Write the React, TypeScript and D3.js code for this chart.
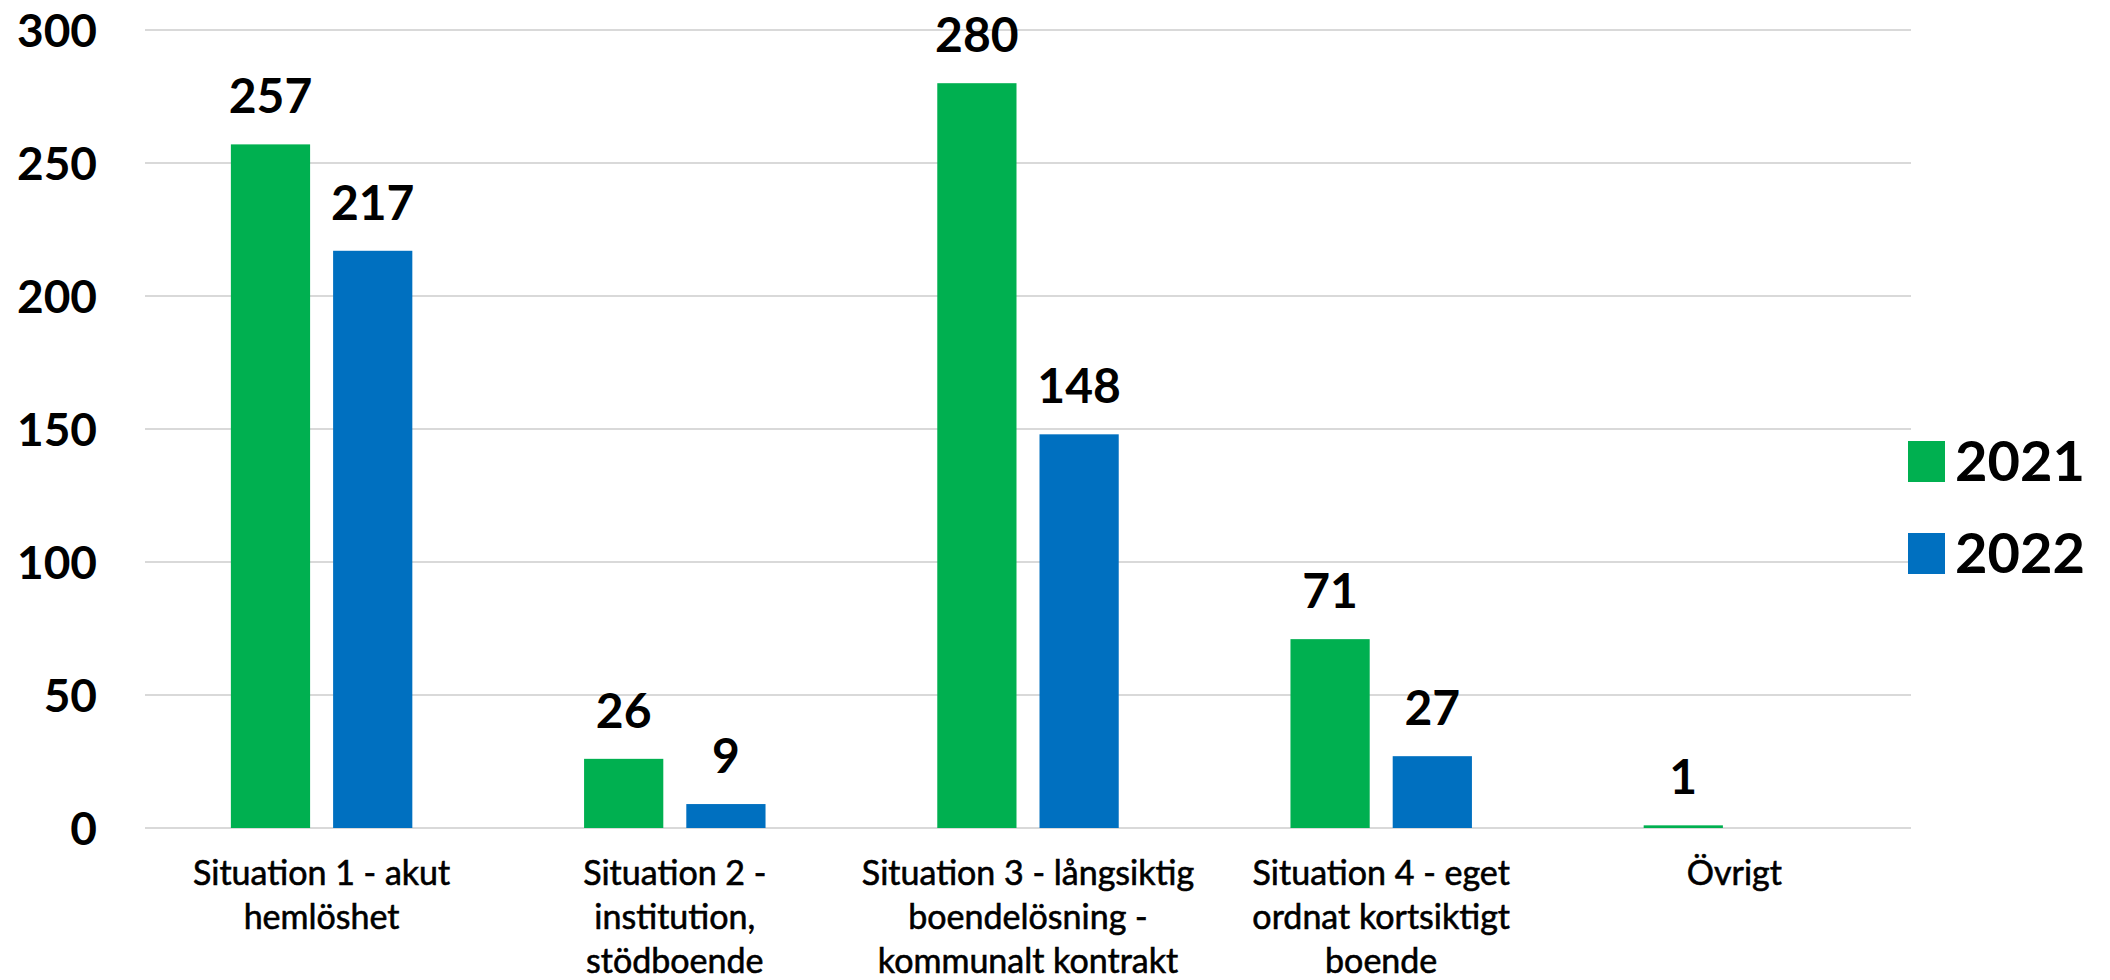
import React, { useEffect } from 'react';
import * as d3 from 'd3';

// Data
const categories = ['s1', 's2', 's3', 's4', 'ovr'];
const categoryLines: string[][] = [
  ['Situation 1 - akut', 'hemlöshet'],
  ['Situation 2 -', 'institution,', 'stödboende'],
  ['Situation 3 - långsiktig', 'boendelösning -', 'kommunalt kontrakt'],
  ['Situation 4 - eget', 'ordnat kortsiktigt', 'boende'],
  ['Övrigt'],
];
const seriesNames = ['2021', '2022'];
const values2021: (number | null)[] = [257, 26, 280, 71, 1];
const values2022: (number | null)[] = [217, 9, 148, 27, null];
const yTicks = [0, 50, 100, 150, 200, 250, 300];

const colors: Record<string, string> = { '2021': '#00B050', '2022': '#0070C0' };
const FONT = 'Lato, "Open Sans", sans-serif';

const W = 2110;
const H = 980;
const margin = { top: 30, right: 199, bottom: 152, left: 145 };

const App: React.FC = () => {
  useEffect(() => {
    document.body.style.margin = '0';
  }, []);

  const innerW = W - margin.left - margin.right;
  const innerH = H - margin.top - margin.bottom;

  const x0 = d3.scaleBand().domain(categories).range([0, innerW]).padding(0);
  const x1 = d3
    .scaleBand()
    .domain(seriesNames)
    .range([0, x0.bandwidth()])
    .paddingInner(0.225)
    .paddingOuter(0.84);
  const y = d3.scaleLinear().domain([0, 300]).range([innerH, 0]);

  const seriesValues: Record<string, (number | null)[]> = {
    '2021': values2021,
    '2022': values2022,
  };

  return (
    <svg width={W} height={H} style={{ display: 'block', background: '#fff' }}>
      <g transform={`translate(${margin.left},${margin.top})`}>
        {/* gridlines */}
        {yTicks.map((t) => (
          <line
            key={t}
            x1={0}
            x2={innerW}
            y1={y(t)}
            y2={y(t)}
            stroke="#d9d9d9"
            strokeWidth={2}
          />
        ))}
        {/* y tick labels */}
        {yTicks.map((t) => (
          <text
            key={`yl${t}`}
            x={-48}
            y={y(t)}
            dy="0.36em"
            textAnchor="end"
            fontFamily={FONT}
            fontWeight="bold"
            fontSize={46}
            fill="#000"
          >
            {t}
          </text>
        ))}
        {/* bars */}
        {categories.map((c, i) => (
          <g key={c} transform={`translate(${x0(c)},0)`}>
            {seriesNames.map((s) => {
              const v = seriesValues[s][i];
              if (v == null) return null;
              const bx = x1(s) || 0;
              return (
                <g key={s}>
                  <rect
                    x={bx}
                    y={y(v)}
                    width={x1.bandwidth()}
                    height={Math.max(0, y(0) - y(v))}
                    fill={colors[s]}
                  />
                  <text
                    x={bx + x1.bandwidth() / 2}
                    y={y(v) - 31}
                    textAnchor="middle"
                    fontFamily={FONT}
                    fontWeight="bold"
                    fontSize={48}
                    fill="#000"
                  >
                    {v}
                  </text>
                </g>
              );
            })}
            {/* category label */}
            <text
              x={x0.bandwidth() / 2}
              y={innerH + 57}
              textAnchor="middle"
              fontFamily={FONT}
              fontSize={34}
              fill="#000"
              stroke="#000"
              strokeWidth={0.6}
            >
              {categoryLines[i].map((line, j) => (
                <tspan key={j} x={x0.bandwidth() / 2} dy={j === 0 ? 0 : 44}>
                  {line}
                </tspan>
              ))}
            </text>
          </g>
        ))}
      </g>
      {/* legend */}
      <g transform={`translate(${W - margin.right - 3},0)`}>
        {seriesNames.map((s, i) => (
          <g key={s} transform={`translate(0,${441 + i * 92})`}>
            <rect x={0} y={0} width={37} height={41} fill={colors[s]} />
            <text
              x={47}
              y={20}
              dy="0.36em"
              fontFamily={FONT}
              fontWeight="bold"
              fontSize={56}
              fill="#000"
            >
              {s}
            </text>
          </g>
        ))}
      </g>
    </svg>
  );
};

export default App;
